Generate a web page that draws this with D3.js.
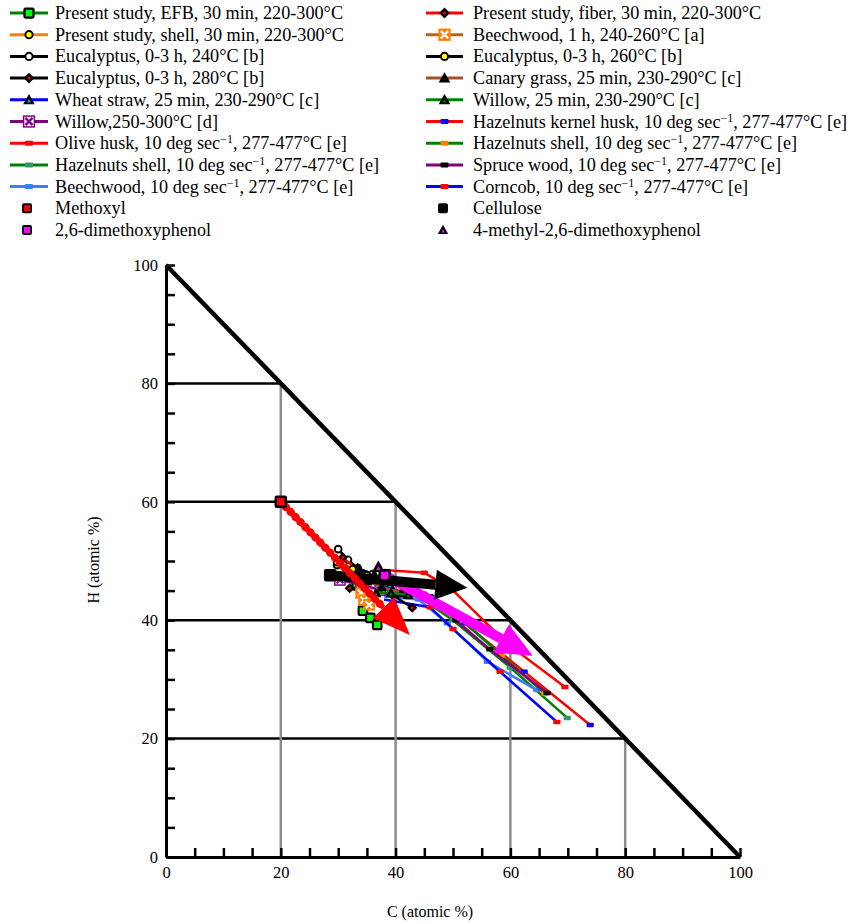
<!DOCTYPE html>
<html>
<head>
<meta charset="utf-8">
<script src="https://cdn.jsdelivr.net/npm/d3@7"></script>
<style>
  body { margin: 0; background: #fff; }
  svg text { font-family: "Liberation Serif", "Tinos", "DejaVu Serif", serif; }
</style>
</head>
<body>
<div id="viz_container"></div>
<script>
//Data/////////////////////////////////////////////////////
const tickLabels = [0, 20, 40, 60, 80, 100];
const minorTicks = d3.range(0, 101, 5);
const gridLevels = [20, 40, 60, 80];

// [C atomic %, H atomic %]
const efbPoints = [[33.2, 46.2], [34.3, 41.6], [35.6, 40.4], [36.8, 39.2]];
const shellPoints = [[29.8, 49.3], [32.0, 47.6], [34.0, 45.6], [35.6, 43.6]];
const fiberPoints = [[30.8, 50.6], [33.6, 48.2], [36.2, 47.4], [38.8, 46.6]];
const beech1hPoints = [[34.0, 44.6], [34.5, 43.4], [35.4, 42.6]];
const euc240Points = [[30.0, 52.0], [31.7, 50.2], [33.4, 48.8], [36.0, 47.8]];
const euc260Points = [[29.8, 49.8], [32.5, 48.6], [35.0, 47.6], [37.5, 47.0]];
const euc280Points = [[32.0, 45.4], [35.2, 44.6], [39.4, 44.3], [42.9, 42.1]];
const canaryPoints = [[35.0, 46.6], [37.6, 45.6], [41.0, 44.6]];
const wheatPoints = [[33.4, 48.8], [36.0, 47.2], [39.0, 46.0]];
const willow25Points = [[36.6, 44.6], [39.2, 44.6], [42.2, 44.3]];
const willowDPoints = [[30.3, 46.8], [34.0, 46.0], [37.3, 45.1]];
const oliveHuskPoints = [[38.0, 48.5], [45.0, 48.0], [49.5, 45.5], [59.5, 36.0], [69.5, 28.7]];
const kernelHuskPoints = [[38.0, 45.5], [46.0, 44.0], [52.0, 39.5], [62.4, 31.3], [73.9, 22.3]];
const hazelShellAPoints = [[38.0, 44.5], [44.0, 44.0], [50.0, 40.0], [60.0, 32.0], [69.9, 23.5]];
const hazelShellBPoints = [[38.5, 45.0], [45.0, 44.5], [51.0, 40.5], [58.5, 34.0], [66.0, 27.6]];
const sprucePoints = [[39.0, 45.0], [46.0, 44.0], [50.5, 40.0], [56.4, 35.1], [66.4, 27.7]];
const beechEPoints = [[38.0, 44.0], [44.0, 43.5], [49.0, 39.5], [56.0, 33.0], [64.6, 28.2]];
const corncobPoints = [[38.0, 43.5], [46.0, 42.2], [50.0, 38.5], [58.2, 31.3], [68.1, 22.8]];

const methoxyl = [20.0, 60.0];
const cellulose = [28.6, 47.6];
const dimethoxyphenol = [38.1, 47.6];
const methylDimethoxyphenol = [37.0, 49.0];

const redArrowEnd = [42.5, 37.5];
const blackArrowEnd = [52.5, 45.5];
const magentaArrowEnd = [63.9, 34.0];

// legend rows, left column and right column
const series = [
  { name: "Present study, EFB, 30 min, 220-300°C", pts: efbPoints, line: "#008000", mk: "square", mf: "#00ff00", col: 0, row: 0 },
  { name: "Present study, shell, 30 min, 220-300°C", pts: shellPoints, line: "#ff8000", mk: "circle", mf: "#ffff00", col: 0, row: 1 },
  { name: "Eucalyptus, 0-3 h, 240°C [b]", pts: euc240Points, line: "#000", mk: "circle", mf: "#fff", col: 0, row: 2 },
  { name: "Eucalyptus, 0-3 h, 280°C [b]", pts: euc280Points, line: "#000", mk: "diamond", mf: "#ff0000", col: 0, row: 3 },
  { name: "Wheat straw, 25 min, 230-290°C [c]", pts: wheatPoints, line: "#0000ff", mk: "triangle", mf: "#00b0f0", col: 0, row: 4 },
  { name: "Willow,250-300°C [d]", pts: willowDPoints, line: "#800080", mk: "xsquare", mf: "#fff", mx: "#800080", col: 0, row: 5 },
  { name: "Olive husk, 10 deg sec⁻¹, 277-477°C [e]", pts: oliveHuskPoints, line: "#ff0000", mk: "bead", mf: "#ff0000", col: 0, row: 6 },
  { name: "Hazelnuts shell, 10 deg sec⁻¹, 277-477°C [e]", pts: hazelShellAPoints, line: "#008000", mk: "bead", mf: "#339966", col: 0, row: 7 },
  { name: "Beechwood, 10 deg sec⁻¹, 277-477°C [e]", pts: beechEPoints, line: "#3d7cff", mk: "bead", mf: "#3d7cff", col: 0, row: 8 },
  { name: "Present study, fiber, 30 min, 220-300°C", pts: fiberPoints, line: "#ff0000", mk: "diamond", mf: "#ff0000", col: 1, row: 0 },
  { name: "Beechwood, 1 h, 240-260°C [a]", pts: beech1hPoints, line: "#b5651d", mk: "xsquare", mf: "#ff8000", mx: "#fff", col: 1, row: 1 },
  { name: "Eucalyptus, 0-3 h, 260°C [b]", pts: euc260Points, line: "#000", mk: "circle", mf: "#ffff00", col: 1, row: 2 },
  { name: "Canary grass, 25 min, 230-290°C [c]", pts: canaryPoints, line: "#a0522d", mk: "triangle", mf: "#000", col: 1, row: 3 },
  { name: "Willow, 25 min, 230-290°C [c]", pts: willow25Points, line: "#008000", mk: "triangle", mf: "#008000", col: 1, row: 4 },
  { name: "Hazelnuts kernel husk, 10 deg sec⁻¹, 277-477°C [e]", pts: kernelHuskPoints, line: "#ff0000", mk: "bead", mf: "#0000ff", col: 1, row: 5 },
  { name: "Hazelnuts shell, 10 deg sec⁻¹, 277-477°C [e]", pts: hazelShellBPoints, line: "#008000", mk: "bead", mf: "#ff8000", col: 1, row: 6 },
  { name: "Spruce wood, 10 deg sec⁻¹, 277-477°C [e]", pts: sprucePoints, line: "#800080", mk: "bead", mf: "#000", col: 1, row: 7 },
  { name: "Corncob, 10 deg sec⁻¹, 277-477°C [e]", pts: corncobPoints, line: "#0000ff", mk: "bead", mf: "#ff0000", col: 1, row: 8 }
];

const compounds = [
  { name: "Methoxyl", pt: methoxyl, mk: "square", mf: "#ff0000", col: 0, row: 9 },
  { name: "2,6-dimethoxyphenol", pt: dimethoxyphenol, mk: "square", mf: "#ff00ff", col: 0, row: 10 },
  { name: "Cellulose", pt: cellulose, mk: "square", mf: "#000", col: 1, row: 9 },
  { name: "4-methyl-2,6-dimethoxyphenol", pt: methylDimethoxyphenol, mk: "triangle", mf: "#ff00ff", col: 1, row: 10 }
];

//Setup/////////////////////////////////////////////////////
const W = 860, H = 924;
const svg = d3.select("#viz_container").append("svg")
  .attr("width", W).attr("height", H);

const x = d3.scaleLinear().domain([0, 100]).range([166, 740]);
const y = d3.scaleLinear().domain([0, 100]).range([857, 265]);

// marker drawing
function marker(g, type, cx, cy, fill, xcol, s) {
  s = s || 1;
  if (type === "square") {
    g.append("rect").attr("x", cx - 5 * s).attr("y", cy - 5 * s)
      .attr("width", 10 * s).attr("height", 10 * s).attr("rx", 1)
      .attr("fill", fill).attr("stroke", "#000").attr("stroke-width", 2.5 * s);
  } else if (type === "circle") {
    g.append("circle").attr("cx", cx).attr("cy", cy).attr("r", 4 * s)
      .attr("fill", fill).attr("stroke", "#000").attr("stroke-width", 2.2 * s);
  } else if (type === "diamond") {
    g.append("path").attr("d", `M${cx},${cy - 6 * s}L${cx + 6 * s},${cy}L${cx},${cy + 6 * s}L${cx - 6 * s},${cy}Z`)
      .attr("fill", "#000");
    g.append("circle").attr("cx", cx).attr("cy", cy).attr("r", 1.6 * s).attr("fill", fill);
  } else if (type === "triangle") {
    g.append("path").attr("d", `M${cx},${cy - 6.5 * s}L${cx + 6.5 * s},${cy + 5 * s}L${cx - 6.5 * s},${cy + 5 * s}Z`)
      .attr("fill", "#000");
    g.append("path").attr("d", `M${cx},${cy - 1 * s}L${cx + 2 * s},${cy + 3 * s}L${cx - 2 * s},${cy + 3 * s}Z`)
      .attr("fill", fill);
  } else if (type === "xsquare") {
    g.append("rect").attr("x", cx - 6 * s).attr("y", cy - 6 * s)
      .attr("width", 12 * s).attr("height", 12 * s)
      .attr("fill", fill).attr("stroke", fill === "#fff" ? xcol : fill).attr("stroke-width", 1.5);
    g.append("path").attr("d", `M${cx - 4 * s},${cy - 4 * s}L${cx + 4 * s},${cy + 4 * s}M${cx + 4 * s},${cy - 4 * s}L${cx - 4 * s},${cy + 4 * s}`)
      .attr("stroke", xcol).attr("stroke-width", 2.5 * s);
  } else if (type === "bead") {
    g.append("rect").attr("x", cx - 4 * s).attr("y", cy - 2.5 * s)
      .attr("width", 8 * s).attr("height", 5 * s).attr("rx", 1).attr("fill", fill);
  }
}

//Frame and grid/////////////////////////////////////////////
const plot = svg.append("g");

// horizontal grid (black) from axis to the diagonal
plot.selectAll(".hgrid").data(gridLevels).join("line")
  .attr("x1", x(0)).attr("x2", d => x(100 - d))
  .attr("y1", d => y(d)).attr("y2", d => y(d))
  .attr("stroke", "#000").attr("stroke-width", 2.5);

// vertical grid (grey)
plot.selectAll(".vgrid").data(gridLevels).join("line")
  .attr("x1", d => x(d)).attr("x2", d => x(d))
  .attr("y1", y(0)).attr("y2", d => y(100 - d))
  .attr("stroke", "#8c8c8c").attr("stroke-width", 2.5);

// axes
const xAxis = plot.append("g").attr("transform", `translate(0,${y(0)})`)
  .call(d3.axisBottom(x).tickValues(minorTicks).tickSizeInner(-9).tickSizeOuter(0).tickPadding(9)
    .tickFormat(d => tickLabels.includes(d) ? d : ""));
const yAxis = plot.append("g").attr("transform", `translate(${x(0)},0)`)
  .call(d3.axisLeft(y).tickValues(minorTicks).tickSizeInner(-9).tickSizeOuter(0).tickPadding(8)
    .tickFormat(d => tickLabels.includes(d) ? d : ""));
[xAxis, yAxis].forEach(a => {
  a.attr("font-family", null);
  a.select(".domain").attr("stroke", "#000").attr("stroke-width", 3);
  a.selectAll(".tick line").attr("stroke", "#000").attr("stroke-width", 2.5);
  a.selectAll(".tick text").attr("font-size", 16.5).attr("fill", "#000");
});

// diagonal C + H = 100
plot.append("line")
  .attr("x1", x(0)).attr("y1", y(100)).attr("x2", x(100)).attr("y2", y(0))
  .attr("stroke", "#000").attr("stroke-width", 4.5);

// axis titles
svg.append("text").attr("x", 430).attr("y", 917).attr("text-anchor", "middle")
  .attr("font-size", 16).text("C (atomic %)");
svg.append("text").attr("transform", "translate(99,560) rotate(-90)").attr("text-anchor", "middle")
  .attr("font-size", 16).text("H (atomic %)");

//Series/////////////////////////////////////////////////////
const lineGen = d3.line().x(d => x(d[0])).y(d => y(d[1]));

// 10 deg/s series first so they sit underneath
const order = series.slice().sort((a, b) => (b.mk === "bead") - (a.mk === "bead"));
order.forEach(s => {
  const g = plot.append("g");
  g.append("path").datum(s.pts).attr("d", lineGen)
    .attr("fill", "none").attr("stroke", s.line).attr("stroke-width", 2.5)
    .attr("stroke-linejoin", "round");
  s.pts.forEach((p, i) => {
    if (s.mk === "bead" && i === 0) return;
    marker(g, s.mk, x(p[0]), y(p[1]), s.mf, s.mx, s.mk === "bead" ? 0.9 : 0.85);
  });
});

// arrows
function arrow(from, to, color, width, headLen, headHalf, dotted) {
  const x0 = x(from[0]), y0 = y(from[1]), x1 = x(to[0]), y1 = y(to[1]);
  const dx = x1 - x0, dy = y1 - y0, L = Math.hypot(dx, dy);
  const ux = dx / L, uy = dy / L;
  const bx = x1 - ux * headLen, by = y1 - uy * headLen;
  const g = plot.append("g");
  g.append("line").attr("x1", x0).attr("y1", y0).attr("x2", bx).attr("y2", by)
    .attr("stroke", color).attr("stroke-width", width);
  if (dotted) {
    g.append("line").attr("x1", x0).attr("y1", y0).attr("x2", bx).attr("y2", by)
      .attr("stroke", color).attr("stroke-width", width + 3)
      .attr("stroke-dasharray", "0.1,7").attr("stroke-linecap", "round");
  }
  g.append("path")
    .attr("d", `M${x1},${y1}L${bx - uy * headHalf},${by + ux * headHalf}L${bx + uy * headHalf},${by - ux * headHalf}Z`)
    .attr("fill", color);
}

arrow(dimethoxyphenol, magentaArrowEnd, "#ff00ff", 10, 36, 16, false);
arrow(cellulose, blackArrowEnd, "#000", 10, 32, 15, false);
arrow(methoxyl, redArrowEnd, "#ff0000", 5, 38, 15, true);

// reference compounds
compounds.forEach(c => marker(plot, c.mk, x(c.pt[0]), y(c.pt[1]), c.mf, null, 1));

//Legend/////////////////////////////////////////////////////
const legend = svg.append("g");
const colX = [{ l0: 10, l1: 48, t: 55 }, { l0: 426, l1: 463, t: 473 }];
const rowY = r => 13 + r * 21.7;

function legendText(g, tx, ty, name) {
  const t = g.append("text").attr("x", tx).attr("y", ty + 6).attr("font-size", 18.2).attr("fill", "#000");
  const parts = name.split("⁻¹");
  parts.forEach((p, i) => {
    t.append("tspan").text(p).attr("dy", i > 0 ? 6 : 0);
    if (i < parts.length - 1) {
      t.append("tspan").text("−1").attr("font-size", 12).attr("dy", -6);
    }
  });
}

series.forEach(s => {
  const c = colX[s.col], cy = rowY(s.row);
  legend.append("line").attr("x1", c.l0).attr("x2", c.l1).attr("y1", cy).attr("y2", cy)
    .attr("stroke", s.line).attr("stroke-width", 3);
  marker(legend, s.mk, (c.l0 + c.l1) / 2, cy, s.mf, s.mx, s.mk === "bead" ? 1 : 0.9);
  legendText(legend, c.t, cy, s.name);
});
compounds.forEach(c => {
  const cc = colX[c.col], cy = rowY(c.row);
  marker(legend, c.mk, cc.l0 + 17, cy, c.mf, null, 0.8);
  legendText(legend, cc.t, cy, c.name);
});
</script>
</body>
</html>
